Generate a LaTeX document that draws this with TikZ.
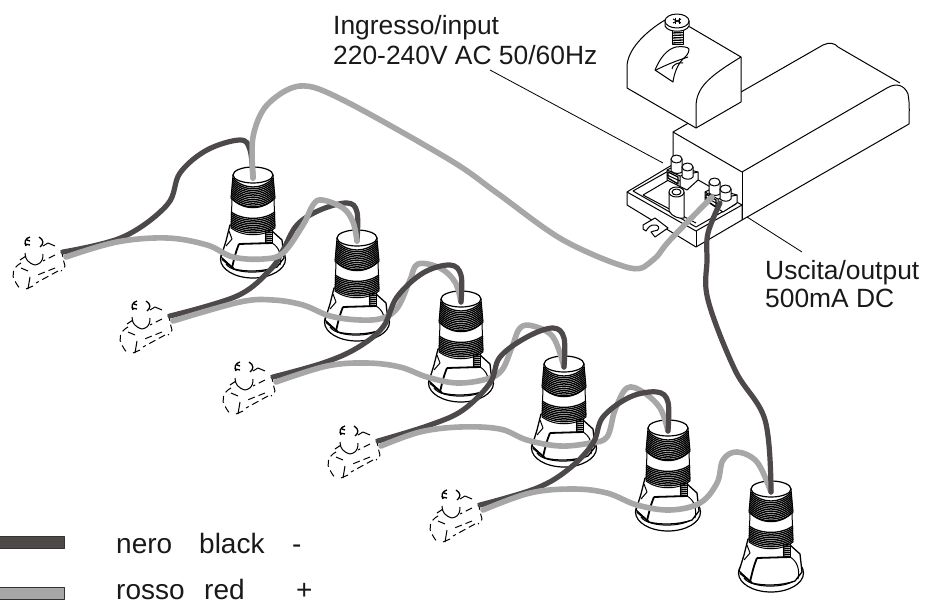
\documentclass[tikz,border=0pt]{standalone}
\usepackage{fontspec}
\setmainfont{Liberation Sans}
\begin{document}
\begin{tikzpicture}[x=1pt,y=-1pt,line join=round]
\useasboundingbox (0,0) rectangle (926,605);
\tikzset{
 blk/.style={draw=black,line width=1pt},
 thin line/.style={draw=black,line width=0.8pt},
 thread/.style={draw=black,line width=1.3pt},
 darkwire/.style={draw=wiredark,line width=5.2pt,line cap=round},
 lightwire/.style={draw=wirelight,line width=5.6pt,line cap=round},
 label/.style={anchor=base west,inner sep=0pt,font=\fontsize{26.4}{30}\selectfont,text=black!90},
 biglabel/.style={anchor=base west,inner sep=0pt,font=\fontsize{28}{32}\selectfont,text=black!90},
 dashline/.style={draw=black,line width=1pt,dash pattern=on 7pt off 4pt},
 lampfig/.pic={
  \coordinate (-w) at (0,3);
  \draw[blk,fill=white,line width=1.2pt] (0,84) ellipse (32.5 and 19);
  \draw[blk] (-27,89) .. controls (-20,100) and (20,100) .. (27,88);
  % body
  \draw[blk,fill=white,line width=1.3pt] (-23,50) -- (-27,66) -- (-32,82) -- (-19,94)
      .. controls (-8,97) and (10,97) .. (24,92) -- (31,83) -- (29,65) -- (19,56) -- (22,50) -- cycle;
  \draw[blk,line width=1.8pt] (-14,69) .. controls (-17,76) and (-19,84) .. (-21,93);
  \draw[blk,line width=1.8pt] (-14,69) -- (19,68);
  \draw[blk,line width=1.8pt] (-31,84) -- (-19,94);
  \draw[blk] (-24,56) -- (-21,64) -- (-27,71);
  \draw[blk] (19,68) .. controls (26,72) and (29,80) .. (27,90);
  % lower threaded neck
  \draw[blk,fill=white] (-21,24) -- (-22,53) .. controls (-10,62) and (10,62) .. (22,53) -- (21,24) -- cycle;
  \foreach \y in {37,38.8,...,53} {
   \draw[thread] (-22,\y) .. controls (-10,{\y+8.5}) and (10,{\y+8.5}) .. (22,\y);
  }
  \foreach \y in {56,58,...,68} { \draw[thread] (12,\y) -- (19,{\y-.5}); }
  \draw[blk] (12,56) -- (12,68) (19,54) -- (19,68);
  % upper threaded part
  \draw[blk,fill=white] (-20,0) -- (-22,23) .. controls (-10,36) and (10,36) .. (22,23) -- (20,0) -- cycle;
  \foreach \y in {3,4.8,...,23} {
   \draw[thread] ({-20-\y*.09},\y) .. controls (-10,{\y+12}) and (10,{\y+12}) .. ({20+\y*.09},\y);
  }
  \draw[blk,fill=white,line width=1.2pt] (0,0) ellipse (20 and 8);
 },
 endfig/.pic={
  \coordinate (-d) at (0,0);
  \coordinate (-l) at (3,5);
  \draw[dashline] (-2,-2) .. controls (0,3) and (0,8) .. (2,14) .. controls (2,16) and (0,18) .. (-2,19);
  \draw[dashline] (-8,3) -- (-20,9);
  \draw[dashline] (-8,16) -- (-28,24);
  \draw[dashline] (-5,19) -- (-27,31);
  \draw[dashline] (-42,11) .. controls (-50,15) and (-52,24) .. (-48,29) .. controls (-46,33) and (-44,36) .. (-42,37);
  \draw[blk] (-42,16) -- (-35,19);
  \draw[blk] (-33,25) -- (-35,37) (-37,37) -- (-30,34);
  \draw[blk] (-43,8) -- (-37,4) (-38,1) .. controls (-38,7) and (-35,11) .. (-28,13) .. controls (-24,12) and (-20,11) .. (-20,2);
  \draw[blk,line width=1.3pt] (-33,-15) .. controls (-38,-14) and (-39,-9) .. (-37,-6) (-38,-8) -- (-33,-7) (-36,-12) -- (-33,-11);
  \draw[blk,line width=1.3pt] (-24,-15) .. controls (-19,-12) and (-19,-8) .. (-23,-5);
  \draw[blk] (-20,-6) -- (-15,-9) -- (-8,-6);
 }
}
\definecolor{wiredark}{HTML}{4D4949}
\definecolor{wirelight}{HTML}{A8A7A7}

% ---- driver body
\draw[blk] (673,160) -- (673,132) -- (692,121);
\draw[blk] (741,92) -- (823,45) .. controls (829,42) and (835,43) .. (838,47) -- (900,83);
\draw[blk] (673,132) -- (742,172) -- (887,88) .. controls (895,83) and (904,84) .. (908,94)
  .. controls (910,105) and (909,115) .. (909,124) -- (742,220);
\draw[blk] (742,172) -- (742,220);

% ---- lid
\draw[blk,fill=white] (627,88) -- (627,67) .. controls (627,50) and (645,32) .. (665,20)
  -- (690,27) -- (741,57) -- (741,102) -- (696,128) -- cycle;
\draw[blk] (696,128) -- (696,107) .. controls (696,88) and (708,77) .. (741,57);
% slot in lid
\draw[blk,fill=white] (655,70) .. controls (660,58) and (667,49) .. (676,47) .. controls (682,46) and (688,47) .. (689,49)
  .. controls (689,54) and (686,56) .. (682,60) .. controls (677,66) and (674,74) .. (673,82) -- cycle;
\draw[blk] (656,70) .. controls (668,64) and (676,61) .. (688,57);
\draw[blk] (672,69) .. controls (672,65) and (678,62) .. (683,63);
% screw
\draw[blk,fill=white] (672,30) rectangle (683,44);
\foreach \y in {33,35.5,...,44} { \draw[thread] (672,\y) -- (683,{\y-.5}); }
\draw[blk,fill=white] (665,21) -- (665,26) .. controls (668,33) and (686,33) .. (689,26) -- (689,21) -- cycle;
\draw[blk,fill=white] (677,21) ellipse (12 and 7);
\draw[blk] (673,19) -- (681,23) (681,19) -- (673,23);
\draw[blk] (675,18) -- (675,24) (679,18) -- (679,24);

% ---- base tray
\draw[blk,fill=white] (627,192) -- (672,165) -- (742,205) -- (742,220) -- (696,247) -- (627,205) -- cycle;
\draw[blk] (627,192) -- (696,231) -- (742,205);
\draw[blk] (696,231) -- (696,247);
\draw[blk] (633,191) -- (696,227) -- (736,204);
\draw[blk] (633,191) -- (672,169);
\draw[blk] (643,195) -- (672,178);
\draw[blk] (643,195) -- (696,223);
% hook
\draw[blk,fill=white] (655,218) -- (668,228) -- (655,237) -- (651,232) -- (654,231) .. controls (660,231) and (660,226) .. (656,225)
  .. controls (650,224) and (648,228) .. (646,231) -- (643,229) -- (643,225) -- cycle;
% cylinder
\draw[blk,fill=white] (669,192) -- (669,211) .. controls (672,217) and (680,219) .. (684,218) -- (684,192) -- cycle;
\draw[blk,fill=white] (676.5,192) ellipse (7.5 and 5);
\draw[blk] (676.5,192) ellipse (4.5 and 3);
% left terminal
\draw[blk,fill=white] (667,170) -- (675,166) -- (698,172) -- (698,180) -- (687,190) -- (667,180) -- cycle;
\draw[blk] (667,170) -- (680,176) -- (680,186) (680,176) -- (698,172) (667,175) -- (680,181);
\draw[blk,line width=1.3pt] (668,172) -- (678,177) -- (678,184) -- (668,178) -- cycle;
\draw[blk,fill=white] (671,159) -- (671,171) .. controls (674,174) and (680,174) .. (682,172) -- (682,159) -- cycle;
\draw[blk,fill=white] (676.5,159) ellipse (5.5 and 4);
\draw[blk,fill=white] (682,167) -- (682,177) .. controls (685,180) and (691,180) .. (693,177) -- (693,167) -- cycle;
\draw[blk,fill=white] (687.5,167) ellipse (5.5 and 4);
% right terminal
\draw[blk,fill=white] (705,192) -- (713,188) -- (737,195) -- (737,203) -- (723,212) -- (705,200) -- cycle;
\draw[blk] (705,192) -- (718,199) -- (718,209) (718,199) -- (737,195) (705,197) -- (718,204);
\draw[blk,line width=1.3pt] (706,194) -- (716,200) -- (716,207) -- (706,200) -- cycle;
\draw[blk,fill=white] (709,182) -- (709,193) .. controls (712,196) and (718,196) .. (720,194) -- (720,182) -- cycle;
\draw[blk,fill=white] (714.5,182) ellipse (5.5 and 4);
\draw[blk,fill=white] (720,189) -- (720,199) .. controls (723,202) and (729,202) .. (731,199) -- (731,189) -- cycle;
\draw[blk,fill=white] (725.5,189) ellipse (5.5 and 4);

% ---- lamps
\pic (l1) at (253,175) {lampfig};
\pic (l2) at (357,238) {lampfig};
\pic (l3) at (461,299) {lampfig};
\pic (l4) at (564,364) {lampfig};
\pic (l5) at (668,428) {lampfig};
\pic (l6) at (771,489) {lampfig};

% ---- wire ends
\pic (c1) at (63,252) {endfig};
\pic (c2) at (170,316) {endfig};
\pic (c3) at (273,377) {endfig};
\pic (c4) at (378,441) {endfig};
\pic (c5) at (480,505) {endfig};

\coordinate (drvplus) at (712,197);
\coordinate (drvminus) at (720,203);

% ---- wires
\draw[darkwire] plot[smooth,tension=.6] coordinates {(c1-d) (123,237) (167,205) (180,173) (207,150) (240,140) (250,150) (l1-w)};
\draw[lightwire] plot[smooth,tension=.55] coordinates {(l1-w) (253,137) (267,105) (300,86) (343,100) (450,160) (497,193) (563,240) (630,268) (653,260) (670,240) (drvplus)};
\draw[darkwire] plot[smooth,tension=.6] coordinates {(c2-d) (237,296) (270,270) (283,250) (297,225) (320,210) (347,203) (357,212) (l2-w)};
\draw[lightwire] plot[smooth,tension=.6] coordinates {(c1-l) (117,242) (167,238) (207,245) (233,257) (263,259) (283,253) (303,225) (313,205) (322,200) (343,208) (353,222) (l2-w)};
\draw[lightwire] plot[smooth,tension=.6] coordinates {(c2-l) (240,302) (273,300) (303,305) (330,316) (360,320) (383,318) (398,307) (410,280) (418,264) (440,268) (455,282) (l3-w)};
\draw[darkwire] plot[smooth,tension=.6] coordinates {(c3-d) (323,363) (357,348) (383,327) (397,297) (423,273) (450,265) (461,275) (l3-w)};
\draw[lightwire] plot[smooth,tension=.6] coordinates {(c3-l) (327,366) (367,363) (400,367) (427,377) (457,383) (487,379) (502,370) (512,347) (520,328) (533,326) (553,337) (l4-w)};
\draw[darkwire] plot[smooth,tension=.6] coordinates {(c4-d) (430,425) (463,410) (490,383) (500,357) (527,337) (553,328) (564,338) (l4-w)};
\draw[lightwire] plot[smooth,tension=.6] coordinates {(c4-l) (420,432) (460,427) (500,429) (527,440) (560,446) (590,443) (607,437) (615,410) (627,388) (643,392) (660,408) (l5-w)};
\draw[darkwire] plot[smooth,tension=.6] coordinates {(c5-d) (537,488) (570,468) (593,443) (603,417) (630,397) (657,392) (668,402) (l5-w)};
\draw[lightwire] plot[smooth,tension=.6] coordinates {(c5-l) (530,493) (573,489) (607,493) (637,505) (670,510) (700,503) (717,483) (723,460) (737,452) (757,462) (l6-w)};
\draw[darkwire] plot[smooth,tension=.6] coordinates {(drvminus) (708,233) (707,260) (708,300) (735,370) (765,420) (l6-w)};

% ---- labels
\node[label] (inA) at (333,34) {Ingresso/input};
\node[label] (inB) at (333,64) {220-240V AC 50/60Hz};
\node[label] (outA) at (765,279) {Uscita/output};
\node[label] (outB) at (765,307) {500mA DC};
\coordinate (inEnd) at (663,163);
\coordinate (outEnd) at (747,217);
\draw[thin line] (490,70) -- (inEnd);
\draw[thin line] (outEnd) -- (802,252);

% ---- legend
\fill[wiredark,draw=black!80,line width=.5pt] (-1,536) rectangle (64,548);
\fill[wirelight,draw=black!80,line width=.5pt] (-1,587) rectangle (64,599);
\node[biglabel] (n1) at (116,553) {nero};
\node[biglabel] (n2) at (199,553) {black};
\node[biglabel] (n3) at (292,553) {-};
\node[biglabel] (r1) at (116,599) {rosso};
\node[biglabel] (r2) at (204,599) {red};
\node[biglabel] (r3) at (296,599) {+};
\end{tikzpicture}
\end{document}
